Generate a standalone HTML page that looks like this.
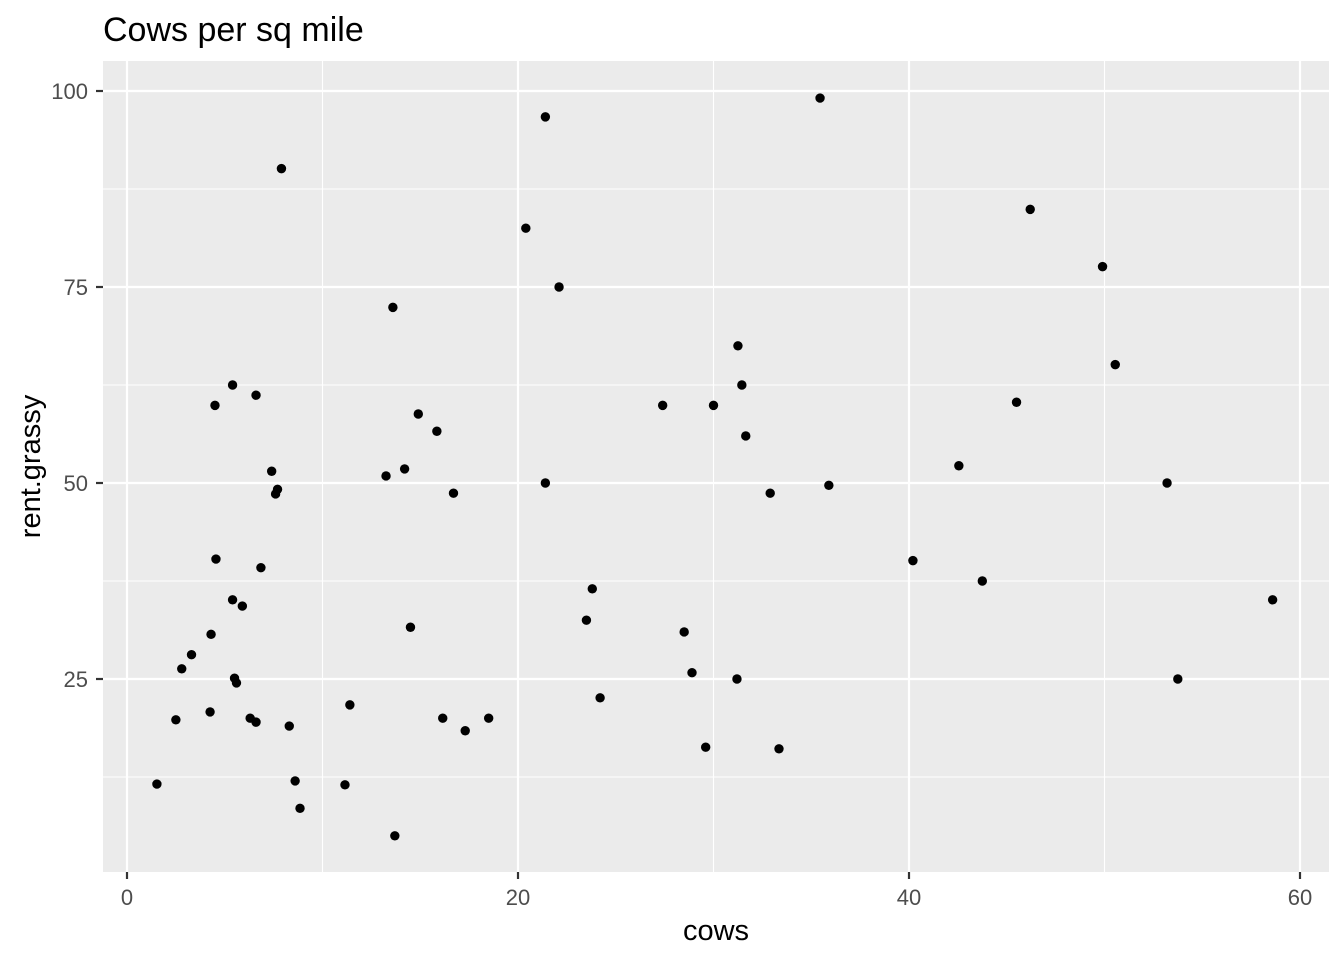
<!DOCTYPE html>
<html><head><meta charset="utf-8"><style>
body{margin:0;background:#fff}
svg text{font-family:"Liberation Sans",Arial,sans-serif}
</style></head><body>
<svg id="chart" width="1344" height="960"></svg>
<script>
const cows=[1.53,2.5,2.8,3.3,4.25,4.3,4.5,4.55,5.4,5.4,5.5,5.6,5.9,6.3,6.6,6.6,6.85,7.4,7.6,7.7,7.9,8.3,8.6,8.85,11.15,11.4,13.25,13.6,13.7,14.2,14.5,14.9,15.85,16.15,16.7,17.3,18.5,20.4,21.4,21.4,22.1,23.5,23.8,24.2,27.4,28.5,28.9,29.6,30.0,31.2,31.25,31.45,31.65,32.9,33.35,35.45,35.9,40.2,42.55,43.75,45.5,46.2,49.9,50.55,53.2,53.75,58.6];
const rent=[11.6,19.8,26.3,28.1,20.8,30.7,59.9,40.3,62.5,35.1,25.1,24.5,34.3,20.0,61.2,19.5,39.2,51.5,48.6,49.2,90.1,19.0,12.0,8.5,11.5,21.7,50.9,72.4,5.0,51.8,31.6,58.8,56.6,20.0,48.7,18.4,20.0,82.5,96.7,50.0,75.0,32.5,36.5,22.6,59.9,31.0,25.8,16.3,59.9,25.0,67.5,62.5,56.0,48.7,16.1,99.1,49.7,40.1,52.2,37.5,60.3,84.9,77.6,65.1,50.0,25.0,35.1];
const xTicks=[0,20,40,60];
const yTicks=[25,50,75,100];
const xMinor=[10,30,50];
const yMinor=[12.5,37.5,62.5,87.5];
const L=103,R=1329,T=61,B=872;
const xs=v=>127+v*(1300-127)/60;
const ys=v=>483-(v-50)*(483-91)/50;
const svg=document.getElementById('chart');
const NS='http://www.w3.org/2000/svg';
function mk(tag,at,parent){const e=document.createElementNS(NS,tag);for(const k in at)e.setAttribute(k,at[k]);(parent||svg).appendChild(e);return e;}
const panel=mk('rect',{x:L,y:T,width:R-L,height:B-T,fill:'#ebebeb'});


xMinor.forEach(v=>{const l=mk('line',{x1:xs(v),x2:xs(v),y1:T,y2:B,stroke:'#fff','stroke-width':1.1});});
yMinor.forEach(v=>{const l=mk('line',{x1:L,x2:R,y1:ys(v),y2:ys(v),stroke:'#fff','stroke-width':1.1});});
xTicks.forEach(v=>{
 const l=mk('line',{x1:xs(v),x2:xs(v),y1:T,y2:B,stroke:'#fff','stroke-width':2.2});
 const t=mk('line',{x1:xs(v),x2:xs(v),y1:B,y2:B+7,stroke:'#333','stroke-width':2.2});
 const tx=mk('text',{x:xs(v),y:905,'text-anchor':'middle','font-size':22,fill:'#4d4d4d'});tx.textContent=v;
});
yTicks.forEach(v=>{
 const l=mk('line',{x1:L,x2:R,y1:ys(v),y2:ys(v),stroke:'#fff','stroke-width':2.2});
 const t=mk('line',{x1:L-7,x2:L,y1:ys(v),y2:ys(v),stroke:'#333','stroke-width':2.2});
 const tx=mk('text',{x:88,y:ys(v)+8,'text-anchor':'end','font-size':22,fill:'#4d4d4d'});tx.textContent=v;
});
cows.forEach((c,i)=>{const p=mk('circle',{cx:xs(c),cy:ys(rent[i]),r:4.7,fill:'#000'});});
const title=mk('text',{x:103,y:41,'font-size':34,fill:'#000'});title.textContent='Cows per sq mile';


const xt=mk('text',{x:(L+R)/2,y:940,'text-anchor':'middle','font-size':29,fill:'#000'});xt.textContent='cows';


const yt=mk('text',{x:0,y:0,'text-anchor':'middle','font-size':29,fill:'#000',transform:'translate(40,'+((T+B)/2)+') rotate(-90)'});yt.textContent='rent.grassy';


</script>
</body></html>
